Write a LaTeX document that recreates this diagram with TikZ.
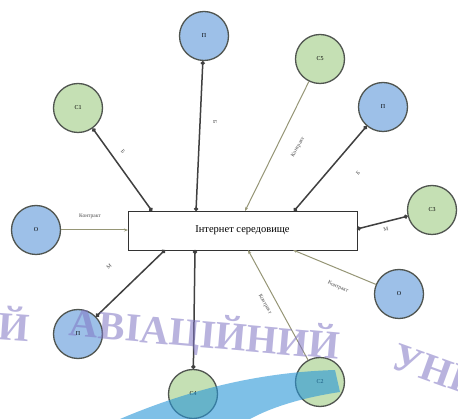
\documentclass[tikz,border=0pt]{standalone}
\usepackage{fontspec}
\setmainfont{Liberation Serif}
\usetikzlibrary{arrows.meta}
\definecolor{gfill}{RGB}{197,224,180}
\definecolor{bfill}{RGB}{157,192,232}
\definecolor{edgec}{RGB}{80,85,80}
\definecolor{thinc}{RGB}{150,150,118}
\definecolor{wmark}{RGB}{128,118,196}
\definecolor{swoosh}{RGB}{40,150,215}
\begin{document}
\begin{tikzpicture}[x=1pt,y=-1pt,
  gnode/.style={circle,draw=edgec,line width=1.3pt,fill=gfill,minimum size=49pt,inner sep=0pt,font=\fontsize{6}{7}\selectfont},
  bnode/.style={circle,draw=edgec,line width=1.3pt,fill=bfill,minimum size=49pt,inner sep=0pt,font=\fontsize{6}{7}\selectfont},
  strong/.style={draw=black!75,line width=1.5pt,{Circle[length=4pt]}-{Circle[length=4pt]}},
  weak/.style={draw=thinc,line width=1pt,-{Stealth[length=4pt]}},
  lbl/.style={font=\fontsize{5.5}{6}\selectfont,text=black!70,inner sep=0pt},
  wm/.style={font=\fontsize{40}{40}\selectfont\bfseries,text=wmark,opacity=0.55,inner sep=0pt}
]
\useasboundingbox (0,0) rectangle (458,419);
\fill[white] (0,0) rectangle (458,419);

% central rectangle
\node[draw=black!80,line width=0.9pt,fill=white,minimum width=229pt,minimum height=39pt,inner sep=0pt,font=\fontsize{10.5}{12}\selectfont] (net) at (242.5,230.5) {Інтернет середовище};

% circles
\node[gnode] (c1) at (78,108) {C1};
\node[bnode] (p1) at (204,36) {П};
\node[gnode] (c5) at (320,59) {C5};
\node[bnode] (p2) at (383,107) {П};
\node[gnode] (c3) at (432,210) {C3};
\node[bnode] (o1) at (36,230) {О};
\node[bnode] (p3) at (78,334) {П};
\node[gnode] (c4) at (193,394) {C4};
\node[gnode] (c2) at (320,382) {C2};
\node[bnode] (o2) at (399,294) {О};

% attachment points on the rectangle
\coordinate (t1) at (152,211);
\coordinate (t2) at (196,211);
\coordinate (t3) at (245,211);
\coordinate (t4) at (294,211);
\coordinate (r1) at (357,229);
\coordinate (l1) at (128,230);
\coordinate (b1) at (165,250);
\coordinate (b2) at (195,250);
\coordinate (b3) at (248,250);
\coordinate (b4) at (293,250);

% connectors
\draw[strong] (c1) -- (t1);
\draw[strong] (p1) -- (t2);
\draw[weak] (c5) -- (t3);
\draw[strong] (p2) -- (t4);
\draw[strong] (c3) -- (r1);
\draw[weak] (o1) -- (l1);
\draw[strong] (p3) -- (b1);
\draw[strong] (c4) -- (b2);
\draw[weak] (c2) -- (b3);
\draw[weak] (o2) -- (b4);

% labels
\node[lbl,rotate=-50] (lb1) at (123,152) {Б};
\node[lbl,rotate=-87] (lb2) at (215,122) {Б};
\node[lbl,rotate=60] (lb3) at (298,147) {Контракт};
\node[lbl,rotate=44] (lb4) at (358,173) {Б};
\node[lbl,rotate=12] (lb5) at (386,229) {М};
\node[lbl] (lb6) at (90,216) {Контракт};
\node[lbl,rotate=41] (lb7) at (109,267) {М};
\node[lbl,rotate=-61] (lb8) at (265,304) {Контракт};
\node[lbl,rotate=-23] (lb9) at (338,287) {Контракт};

% background watermark
\fill[swoosh,opacity=0.6] (120,419) .. controls (200,385) and (270,372) .. (335,370)
  -- (340,392) .. controls (300,398) and (270,408) .. (250,419) -- cycle;
\node[wm,rotate=-4] (w1) at (14,324) {Й};
\node[wm,rotate=-5] (w2) at (205,335) {АВІАЦІЙНИЙ};
\node[wm,rotate=-20] (w3) at (430,368) {УНІ};
\end{tikzpicture}
\end{document}
